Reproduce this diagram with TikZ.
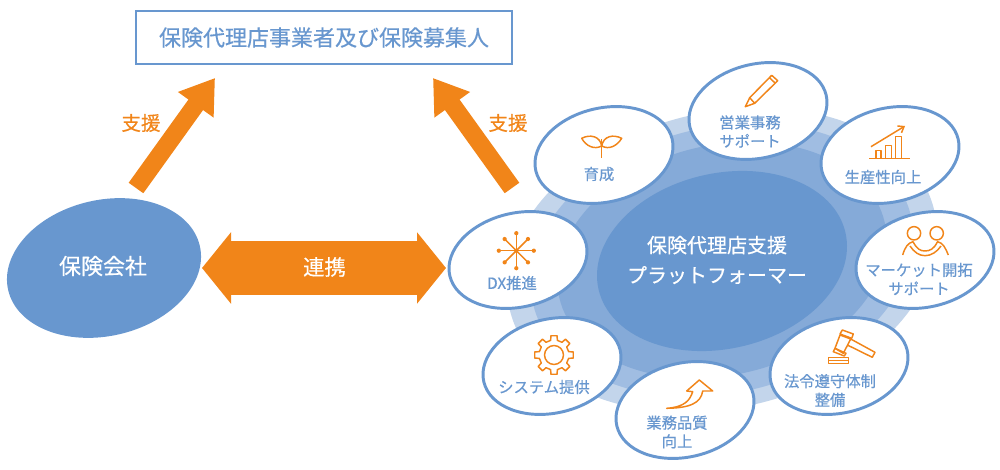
\documentclass[tikz,border=0pt]{standalone}
\usepackage{fontspec}
\setmainfont{Noto Sans CJK JP}[FakeBold=0.45]
\usepackage{tikz}
\usetikzlibrary{arrows.meta,shapes.geometric}
\definecolor{mainblue}{HTML}{6897CF}
\definecolor{ringA}{HTML}{C3D5EB}
\definecolor{ringB}{HTML}{A0BDE2}
\definecolor{ringC}{HTML}{85AAD8}
\definecolor{mainorange}{HTML}{F18519}

\begin{document}
\begin{tikzpicture}[x=0.75pt,y=-0.75pt]
  \tikzset{
    disc/.style={ellipse, rotate=13, inner sep=0pt, draw=none},
    item/.style={ellipse, rotate=13, inner sep=0pt, draw=mainblue, fill=white, line width=2.2pt, minimum width=105pt, minimum height=70.5pt},
    itemtext/.style={text=mainblue, align=center, font=\fontsize{11.5}{14}\selectfont, inner sep=0pt},
    whitetext/.style={text=white, align=center, inner sep=0pt},
    supportlabel/.style={text=mainorange, inner sep=0pt, font=\fontsize{14.6}{17}\selectfont},
    thickarrow/.style={draw=mainorange, line width=13.5pt, -{Triangle[length=24.75pt,width=31.2pt]}},
    icon/.style={draw=mainorange, line width=1.1pt, line join=round}
  }
  \useasboundingbox (0,0) rectangle (1000,470);

  % Top box
  \node[draw=mainblue, line width=1.5pt, fill=white, minimum width=282pt, minimum height=39.5pt, inner sep=0pt, text=mainblue, font=\fontsize{16.5}{20}\selectfont] (agents) at (324,37.5) {保険代理店事業者及び保険募集人};

  % Insurance company
  \node[disc, fill=mainblue, minimum width=147.5pt, minimum height=102pt] (insurer) at (104,268) {};
  \node[whitetext, font=\fontsize{16.5}{20}\selectfont] (insurertext) at (103,266) {保険会社};

  % Rings behind the platform
  \node[disc, fill=ringA, minimum width=327pt, minimum height=222pt] (ringout) at (722,260) {};
  \node[disc, fill=ringB, minimum width=291pt, minimum height=199.5pt] (ringmid) at (722,260) {};
  \node[disc, fill=ringC, minimum width=250.5pt, minimum height=172.5pt] (ringin) at (722,260) {};
  \node[disc, fill=mainblue, minimum width=190pt, minimum height=131.5pt] (platform) at (722,261) {};
  \node[whitetext, font=\fontsize{15}{22.5}\selectfont] (platformtext) at (717,260) {保険代理店支援\\プラットフォーマー};

  % Arrows
  \coordinate (leftfrom) at (136,188);
  \coordinate (lefttip) at (215,78);
  \coordinate (rightfrom) at (512,188);
  \coordinate (righttip) at (433,78);
  \coordinate (linkL) at (202,268);
  \coordinate (linkR) at (446,268);
  \draw[thickarrow] (leftfrom) -- (lefttip);
  \draw[thickarrow] (rightfrom) -- (righttip);
  \draw[draw=mainorange, line width=40.5pt, {Triangle[length=21.75pt,width=52.5pt]}-{Triangle[length=21.75pt,width=52.5pt]}] (linkL) -- (linkR);
  \node[whitetext, font=\fontsize{16}{20}\selectfont] (linktext) at (324.5,267) {連携};
  \node[supportlabel] (leftlabel) at (141,123) {支援};
  \node[supportlabel] (rightlabel) at (508,123) {支援};

  % Satellites
  \node[item] (grow) at (604,155) {};
  \node[item] (sales) at (758,111) {};
  \node[item] (prod) at (890,155) {};
  \node[item] (market) at (925,260) {};
  \node[item] (legal) at (839,366) {};
  \node[item] (quality) at (685,410) {};
  \node[item] (system) at (552,366) {};
  \node[item] (dx) at (518,260) {};

  \node[itemtext] (growtext) at (599,174) {育成};
  \node[itemtext] (salestext) at (750,131.5) {営業事務\\サポート};
  \node[itemtext] (prodtext) at (883,177) {生産性向上};
  \node[itemtext] (markettext) at (919,279) {マーケット開拓\\サポート};
  \node[itemtext] (legaltext) at (830,390.5) {法令遵守体制\\整備};
  \node[itemtext] (qualitytext) at (677,432) {業務品質\\向上};
  \node[itemtext] (systemtext) at (544,387) {システム提供};
  \node[itemtext] (dxtext) at (512,283) {DX推進};

  % Sprout icon
  \draw[icon] (601.7,139) -- (601.7,158.5);
  \draw[icon] (601.7,146) .. controls (600,136) and (590,134) .. (581.7,138.3) .. controls (586,146) and (594,150) .. (601.7,146);
  \draw[icon] (601.7,146) .. controls (603.5,136) and (613,134) .. (621.7,138.3) .. controls (617,146) and (609,150) .. (601.7,146);

  % Pencil icon
  \draw[icon] (745.3,106.7) -- (749.7,97.7) -- (771.7,75.3) -- (777.7,80.7) -- (754.7,103.3) -- cycle;
  \draw[icon] (749.7,97.7) -- (754.7,103.3);
  \draw[icon] (769.3,77.6) -- (775.2,83.1);

  % Chart icon
  \draw[icon] (869,158.7) -- (910,158.7);
  \draw[icon] (876,158.7) -- (876,150.7) -- (881,150.7) -- (881,158.7);
  \draw[icon] (885.7,158.7) -- (885.7,145.7) -- (891.7,145.7) -- (891.7,158.7);
  \draw[icon] (895.7,158.7) -- (895.7,136.3) -- (901.3,136.3) -- (901.3,158.7);
  \draw[icon, -{Straight Barb[length=4pt,width=6pt]}] (871,146.7) -- (905,126);

  % People icon
  \draw[icon] (914,233.3) circle (5pt);
  \draw[icon] (936.7,233.3) circle (5pt);
  \draw[icon] (902.7,255) .. controls (905,247) and (908,243) .. (913,241.7) .. controls (917,249) and (920,251) .. (925,251) .. controls (930,251) and (934,249) .. (937.5,241.7) .. controls (943,243) and (945,247) .. (948.3,255);
  \draw[icon] (910,246) .. controls (914,252) and (919,255.7) .. (925,255.7) .. controls (931,255.7) and (937,252) .. (941,246);

  % Gavel icon
  \draw[icon] (840,335) -- (850.7,339) -- (843.3,353.3) -- (835,348.3) -- cycle;
  \draw[icon] (842.3,330) -- (853.3,334) -- (851.7,338.3) -- (840,334) -- cycle;
  \draw[icon] (835,348.3) -- (846,353.3) -- (844.3,356) -- (833.3,351.7) -- cycle;
  \draw[icon] (850.7,339) -- (875,352.3) -- (872.3,357.3) -- (847.3,345);
  \draw[icon] (828.3,363.3) rectangle (848.3,357.3);
  \draw[icon] (828.3,360.3) -- (848.3,360.3);

  % Rising arrow icon
  \draw[icon] (666.7,408.3) .. controls (685,407) and (690,400) .. (692.7,391.7) -- (686.7,391) -- (699.3,380) -- (712.7,391) -- (702.7,391) .. controls (701,403) and (690,408) .. (666.7,408.3) -- cycle;

  % Gear icon
  \begin{scope}[shift={(554,355)}]
    \draw[icon] (0,0) circle (7.1pt);
    \draw[icon] (-13:15)
      \foreach \a in {0,45,...,315} {
        -- (\a-13:15) -- (\a-9:19.5) -- (\a+9:19.5) -- (\a+13:15)
      } -- cycle;
  \end{scope}

  % DX icon
  \begin{scope}[shift={(516.3,250.7)}]
    \foreach \a in {0,90,180,270} {
      \draw[icon] (0,0) -- (\a:17.5);
      \fill[mainorange] (\a:17.5) circle (1.6pt);
    }
    \foreach \a in {45,135,225,315} {
      \draw[icon] (0,0) -- (\a:16.5);
      \fill[mainorange] (\a:16.5) circle (1.6pt);
    }
    \fill[mainorange] (0,0) circle (1.6pt);
  \end{scope}
\end{tikzpicture}
\end{document}
